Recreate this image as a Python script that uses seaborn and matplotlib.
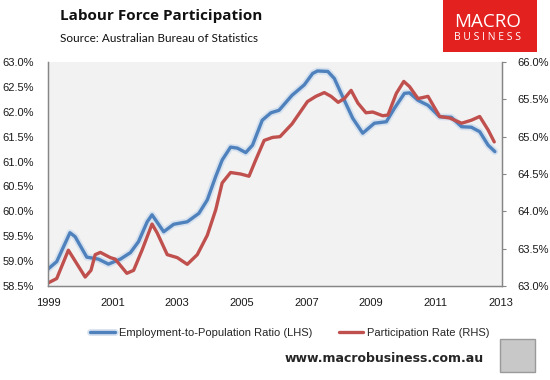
import numpy as np
import pandas as pd
import matplotlib
matplotlib.use("Agg")
import matplotlib.pyplot as plt
import matplotlib.patheffects as pe
from matplotlib.patches import Rectangle
from matplotlib.ticker import FuncFormatter
import seaborn as sns

# --- data (decimal years, % values) ---
epop_year = [1999.00, 1999.27, 1999.68, 1999.84, 2000.20, 2000.56, 2000.87, 2001.24,
             2001.55, 2001.80, 2002.07, 2002.22, 2002.58, 2002.89, 2003.31, 2003.67,
             2003.93, 2004.19, 2004.39, 2004.65, 2004.86, 2005.12, 2005.33, 2005.63,
             2005.90, 2006.15, 2006.55, 2006.93, 2007.19, 2007.34, 2007.66, 2007.86,
             2008.12, 2008.43, 2008.74, 2009.10, 2009.47, 2009.72, 2010.03, 2010.19,
             2010.45, 2010.76, 2011.12, 2011.48, 2011.80, 2012.10, 2012.36, 2012.62,
             2012.83]
epop_ratio = [58.84, 58.99, 59.57, 59.49, 59.08, 59.04, 58.94, 59.04,
              59.17, 59.39, 59.79, 59.93, 59.59, 59.74, 59.79, 59.96,
              60.23, 60.70, 61.03, 61.29, 61.27, 61.18, 61.33, 61.83,
              61.98, 62.03, 62.33, 62.54, 62.77, 62.82, 62.81, 62.67,
              62.30, 61.87, 61.57, 61.77, 61.80, 62.07, 62.37, 62.38,
              62.23, 62.13, 61.90, 61.89, 61.70, 61.69, 61.60, 61.33,
              61.20]

part_year = [1999.00, 1999.27, 1999.63, 1999.89, 2000.15, 2000.33, 2000.46, 2000.62,
             2000.93, 2001.08, 2001.44, 2001.65, 2001.91, 2002.22, 2002.38, 2002.69,
             2003.00, 2003.31, 2003.62, 2003.93, 2004.19, 2004.39, 2004.65, 2004.96,
             2005.22, 2005.43, 2005.69, 2005.95, 2006.18, 2006.55, 2007.03, 2007.29,
             2007.55, 2007.76, 2007.98, 2008.17, 2008.38, 2008.59, 2008.84, 2009.05,
             2009.36, 2009.52, 2009.78, 2010.01, 2010.19, 2010.45, 2010.76, 2011.12,
             2011.43, 2011.80, 2012.10, 2012.36, 2012.62, 2012.81]
part_rate = [63.04, 63.10, 63.48, 63.30, 63.12, 63.21, 63.42, 63.45,
             63.38, 63.36, 63.17, 63.21, 63.48, 63.83, 63.71, 63.42,
             63.38, 63.29, 63.42, 63.68, 64.02, 64.38, 64.52, 64.50,
             64.47, 64.69, 64.95, 64.99, 65.00, 65.17, 65.47, 65.54,
             65.59, 65.54, 65.46, 65.51, 65.62, 65.45, 65.32, 65.33,
             65.28, 65.29, 65.58, 65.74, 65.67, 65.51, 65.54, 65.27,
             65.25, 65.18, 65.22, 65.27, 65.09, 64.93]

x_ticks = [1999, 2001, 2003, 2005, 2007, 2009, 2011, 2013]
left_ticks = [58.5, 59.0, 59.5, 60.0, 60.5, 61.0, 61.5, 62.0, 62.5, 63.0]
right_ticks = [63.0, 63.5, 64.0, 64.5, 65.0, 65.5, 66.0]

label_lhs = "Employment-to-Population Ratio (LHS)"
label_rhs = "Participation Rate (RHS)"

blue = "#4F81BD"
red = "#C0504D"
axis_grey = "#868686"

sns.set_style("white")
plt.rcParams['font.family'] = ['Liberation Sans', 'DejaVu Sans']

df_lhs = pd.DataFrame({"year": epop_year, "value": epop_ratio})
df_rhs = pd.DataFrame({"year": part_year, "value": part_rate})

fig = plt.figure(figsize=(5.5, 3.8), dpi=100)
ax = fig.add_axes([48 / 550, 1 - 286 / 380, 454 / 550, 224 / 380])
ax.set_facecolor("#F2F2F2")
ax2 = ax.twinx()

sns.lineplot(data=df_lhs, x="year", y="value", ax=ax, color=blue, linewidth=2.4,
             label=label_lhs, legend=False, solid_joinstyle="round", solid_capstyle="round",
             path_effects=[pe.Stroke(linewidth=5.0, foreground="#D0DDEE", alpha=0.8), pe.Normal()])
sns.lineplot(data=df_rhs, x="year", y="value", ax=ax2, color=red, linewidth=2.4,
             label=label_rhs, legend=False, solid_joinstyle="round", solid_capstyle="round")

ax.set_xlim(1999, 2013.05)
ax.set_ylim(58.5, 63.0)
ax2.set_ylim(63.0, 66.0)
ax.set_xticks(x_ticks)
ax.set_yticks(left_ticks)
ax2.set_yticks(right_ticks)
pct = FuncFormatter(lambda v, p: f"{v:.1f}%")
ax.yaxis.set_major_formatter(pct)
ax2.yaxis.set_major_formatter(pct)
ax.set_xlabel("")
ax.set_ylabel("")
ax2.set_ylabel("")

for a in (ax, ax2):
    for s in a.spines.values():
        s.set_color(axis_grey)
        s.set_linewidth(0.9)
    a.spines["top"].set_visible(False)

ax.tick_params(axis="x", direction="in", length=4, color=axis_grey, pad=9,
               labelsize=8, labelcolor="#1a1a1a")
ax.tick_params(axis="y", length=0, pad=10, labelsize=8, labelcolor="#1a1a1a")
ax2.tick_params(axis="y", direction="out", length=3, color=axis_grey, pad=8,
                labelsize=8, labelcolor="#1a1a1a")

# legend below the plot
h1, l1 = ax.get_legend_handles_labels()
h2, l2 = ax2.get_legend_handles_labels()
fig.legend(h1 + h2, l1 + l2, loc="center", bbox_to_anchor=(0.527, 1 - 333 / 380),
           ncol=2, frameon=False, fontsize=8, handlelength=2.2, handletextpad=0.35,
           columnspacing=2.4)

# titles
fig.text(60 / 550, 1 - 16 / 380, "Labour Force Participation", fontsize=11,
         fontweight="bold", family=["Open Sans", "DejaVu Sans"], va="center", ha="left",
         color="#111111")
fig.text(60 / 550, 1 - 38 / 380, "Source: Australian Bureau of Statistics", fontsize=8.5,
         family=["Lato", "DejaVu Sans"], va="center", ha="left", color="#111111")

# logo box
fig.patches.append(Rectangle((443 / 550, 1 - 52 / 380), 94 / 550, 52 / 380,
                             transform=fig.transFigure, facecolor="#E3211F",
                             edgecolor="none"))
fig.text(488 / 550, 1 - 22 / 380, "MACRO", fontsize=13.5, color="white",
         family=["Open Sans", "DejaVu Sans"], ha="center", va="center")
fig.text(488 / 550, 1 - 37 / 380, "B U S I N E S S", fontsize=7.5, color="white",
         family=["Open Sans", "DejaVu Sans"], ha="center", va="center")

# footer
fig.text(484 / 550, 1 - 358 / 380, "www.macrobusiness.com.au", fontsize=9,
         fontweight="bold", family=["DejaVu Sans"], ha="right", va="center")
fig.patches.append(Rectangle((500 / 550, 1 - 372 / 380), 35 / 550, 33 / 380,
                             transform=fig.transFigure, facecolor="#C8C8C8",
                             edgecolor="#9A9A9A", linewidth=1))

fig.savefig("out.png", dpi=100)
